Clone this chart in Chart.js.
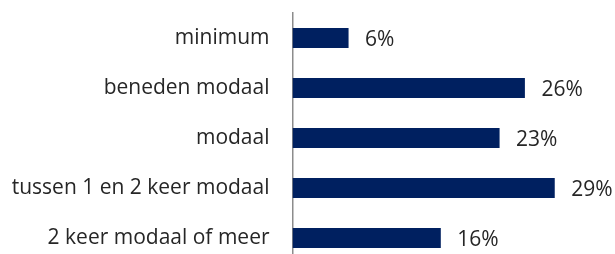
<!DOCTYPE html>
<html>
<head>
<meta charset="utf-8">
<script src="https://cdn.jsdelivr.net/npm/chart.js@4/dist/chart.umd.min.js"></script>
<style>
  html, body { margin: 0; padding: 0; background: #fff; overflow: hidden; }
  canvas { display: block; }
</style>
</head>
<body>
<canvas id="chart" width="615" height="263"></canvas>
<script>
const categories = ['minimum', 'beneden modaal', 'modaal', 'tussen 1 en 2 keer modaal', '2 keer modaal of meer'];
const shares = [6.2, 25.7, 22.9, 29, 16.4];
const shareLabels = ['6%', '26%', '23%', '29%', '16%'];

const barColor = '#002060';
const textColor = '#262626';

// value labels at the end of each bar
const valueLabels = {
  id: 'valueLabels',
  afterDatasetsDraw(chart) {
    const { ctx } = chart;
    const meta = chart.getDatasetMeta(0);
    ctx.save();
    ctx.font = '21px "Open Sans"';
    ctx.fillStyle = textColor;
    ctx.textAlign = 'left';
    ctx.textBaseline = 'middle';
    meta.data.forEach((bar, i) => {
      ctx.fillText(shareLabels[i], bar.x + 16.5, bar.y + 2.5);
    });
    ctx.restore();
  }
};

new Chart(document.getElementById('chart'), {
  type: 'bar',
  data: {
    labels: categories,
    datasets: [{
      data: shares,
      backgroundColor: barColor,
      categoryPercentage: 1,
      barPercentage: 0.4
    }]
  },
  options: {
    indexAxis: 'y',
    responsive: false,
    animation: false,
    layout: { padding: { top: 13, right: 6, bottom: 0, left: 0 } },
    plugins: {
      legend: { display: false },
      tooltip: { enabled: false }
    },
    scales: {
      x: {
        min: 0,
        max: 35,
        display: false
      },
      y: {
        grid: { display: false, drawTicks: false },
        border: { display: true, color: '#8c8c8c', width: 1.5 },
        ticks: {
          color: textColor,
          font: { family: '"Open Sans"', size: 21 },
          padding: 23
        },
        afterFit(scale) {
          scale.width = 292.5;
          scale.paddingTop = 0;
          scale.paddingBottom = 0;
        }
      }
    }
  },
  plugins: [valueLabels]
});
</script>
</body>
</html>
